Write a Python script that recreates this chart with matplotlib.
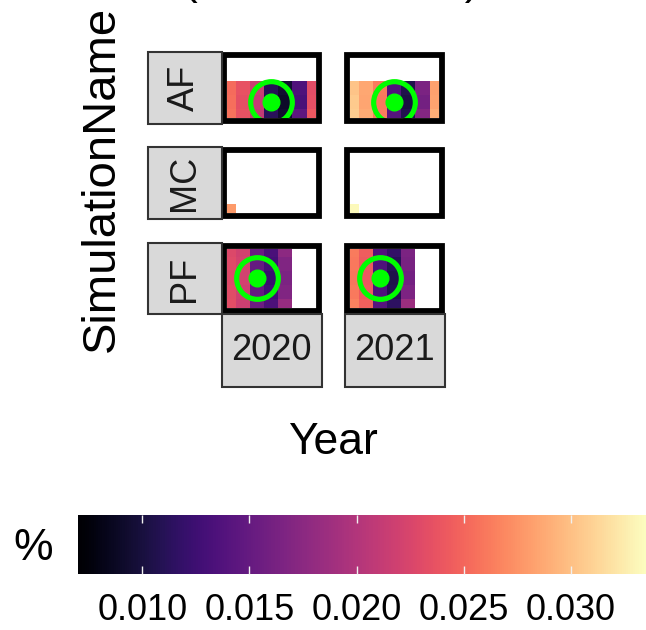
import numpy as np
import matplotlib
matplotlib.use("Agg")
import matplotlib.pyplot as plt
from matplotlib.patches import Rectangle
from matplotlib.colors import Normalize
from matplotlib.cm import ScalarMappable

plt.rcParams['font.family'] = ['Liberation Sans', 'DejaVu Sans']

n = np.nan
simulations = ["AF", "MC", "PF"]
years = ["2020", "2021"]

# Cell values (%), rows listed from the top (y = 4) to the bottom (y = 0), columns x = 0..6
af_2020 = [
    [n, n, n, n, n, n, n],
    [n, n, n, n, n, n, n],
    [0.0253, 0.0236, 0.0215, 0.0110, 0.0094, 0.0136, 0.0232],
    [0.0255, 0.0234, 0.0212, 0.0107, 0.0090, 0.0132, 0.0234],
    [0.0257, 0.0236, 0.0210, 0.0112, 0.0093, 0.0145, 0.0240],
]
af_2021 = [
    [n, n, n, n, n, n, n],
    [n, n, n, n, n, n, n],
    [0.0302, 0.0286, 0.0262, 0.0138, 0.0106, 0.0165, 0.0283],
    [0.0305, 0.0285, 0.0260, 0.0134, 0.0102, 0.0160, 0.0284],
    [0.0308, 0.0288, 0.0262, 0.0140, 0.0108, 0.0170, 0.0290],
]
mc_2020 = [
    [n, n, n, n, n, n, n],
    [n, n, n, n, n, n, n],
    [n, n, n, n, n, n, n],
    [n, n, n, n, n, n, n],
    [0.0279, n, n, n, n, n, n],
]
mc_2021 = [
    [n, n, n, n, n, n, n],
    [n, n, n, n, n, n, n],
    [n, n, n, n, n, n, n],
    [n, n, n, n, n, n, n],
    [0.0332, n, n, n, n, n, n],
]
pf_2020 = [
    [0.0228, 0.0220, 0.0153, 0.0133, 0.0176, n, n],
    [0.0230, 0.0222, 0.0150, 0.0128, 0.0168, n, n],
    [0.0229, 0.0221, 0.0147, 0.0122, 0.0165, n, n],
    [0.0231, 0.0219, 0.0150, 0.0127, 0.0168, n, n],
    [0.0232, 0.0216, 0.0155, 0.0134, 0.0182, n, n],
]
pf_2021 = [
    [0.0262, 0.0244, 0.0138, 0.0118, 0.0165, n, n],
    [0.0260, 0.0242, 0.0135, 0.0110, 0.0163, n, n],
    [0.0259, 0.0241, 0.0134, 0.0106, 0.0160, n, n],
    [0.0261, 0.0243, 0.0136, 0.0108, 0.0166, n, n],
    [0.0265, 0.0246, 0.0140, 0.0115, 0.0185, n, n],
]

# Study site location per simulation (cell centre)
site_x = {"AF": 3, "PF": 2}
site_y = {"AF": 1, "PF": 2}

color_min = 0.0070
color_max = 0.0335
cbar_ticks = [0.010, 0.015, 0.020, 0.025, 0.030]
cbar_labels = ["0.010", "0.015", "0.020", "0.025", "0.030"]

grids = {
    ("AF", "2020"): af_2020, ("AF", "2021"): af_2021,
    ("MC", "2020"): mc_2020, ("MC", "2021"): mc_2021,
    ("PF", "2020"): pf_2020, ("PF", "2021"): pf_2021,
}

W, H = 646, 630
fig = plt.figure(figsize=(W / 100, H / 100), dpi=100)
PX = 72 / 100  # points per pixel


def frac(x, top, w, h):
    return [x / W, 1 - (top + h) / H, w / W, h / H]


def add_rect(x, top, w, h, **kw):
    r = Rectangle((x / W, 1 - (top + h) / H), w / W, h / H,
                  transform=fig.transFigure, **kw)
    fig.add_artist(r)
    return r


cmap = plt.get_cmap("magma")
norm = Normalize(vmin=color_min, vmax=color_max)

col_left = [227.3, 350.3]
row_top = [58.3, 153.3, 248.7]
pw, ph = 88.4, 59.4
border = 5.8
strip = 73.5

x_edges = np.arange(-0.5, 7.0, 1.0)
y_edges = np.arange(-0.5, 5.0, 1.0)

for i, sim in enumerate(simulations):
    for j, yr in enumerate(years):
        ax = fig.add_axes(frac(col_left[j], row_top[i], pw, ph))
        vals = np.array(grids[(sim, yr)], dtype=float)[::-1]
        ax.pcolormesh(x_edges, y_edges, np.ma.masked_invalid(vals),
                      cmap=cmap, norm=norm, shading="flat")
        if sim in site_x:
            ax.plot(site_x[sim], site_y[sim], marker="o", ms=30, mfc="none",
                    mec="#00ff00", mew=3.7, ls="none")
            ax.plot(site_x[sim], site_y[sim], marker="o", ms=12, mfc="#00ff00",
                    mec="#00ff00", ls="none")
        ax.set_xlim(-0.12, 6.15)
        ax.set_ylim(-0.12, 4.09)
        ax.set_xticks([])
        ax.set_yticks([])
        for s in ax.spines.values():
            s.set_visible(False)
        # thick black panel frame
        add_rect(col_left[j] - border / 2, row_top[i] - border / 2,
                 pw + border, ph + border, fill=False, ec="black",
                 lw=border * PX, joinstyle="miter")

# row strips on the left
for i, sim in enumerate(simulations):
    top = row_top[i] - border
    add_rect(col_left[0] - border - strip, top, strip, ph + 2 * border,
             fc="#d9d9d9", ec="#333333", lw=1.5)
    fig.text((col_left[0] - border - strip / 2) / W,
             1 - (top + (ph + 2 * border) / 2) / H, sim, rotation=90,
             ha="center", va="center", fontsize=26, color="#1a1a1a")

# column strips at the bottom
for j, yr in enumerate(years):
    top = row_top[2] + ph + border
    add_rect(col_left[j] - border, top, pw + 2 * border, strip,
             fc="#d9d9d9", ec="#333333", lw=1.5)
    fig.text((col_left[j] + pw / 2) / W, 1 - (top + strip / 2) / H, yr,
             ha="center", va="center", fontsize=26, color="#1a1a1a")

# axis titles
fig.text(114 / W, 1 - 179 / H, "SimulationName", rotation=90,
         rotation_mode="anchor", ha="center", va="baseline", fontsize=34)
fig.text(333 / W, 1 - 454 / H, "Year", ha="center", va="baseline",
         fontsize=32)
fig.text(331 / W, 1 + 6 / H, "(relative share)", ha="center",
         va="baseline", fontsize=32)

# colour bar
cax = fig.add_axes(frac(78, 515, W - 78, 59))
cb = fig.colorbar(ScalarMappable(norm=norm, cmap=cmap), cax=cax,
                  orientation="horizontal")
cb.outline.set_visible(False)
cb.set_ticks(cbar_ticks)
cb.set_ticklabels(cbar_labels)
cax.tick_params(axis="x", direction="in", length=8 * PX,
                width=1.0, colors="#f0f0f0", top=True, bottom=True,
                labelsize=26, labelcolor="black", pad=14)
cax.xaxis.set_tick_params(which="minor", length=0)
fig.text(33 / W, 1 - 548 / H, "%", ha="center", va="center", fontsize=32)

fig.savefig("out.png", dpi=100)
